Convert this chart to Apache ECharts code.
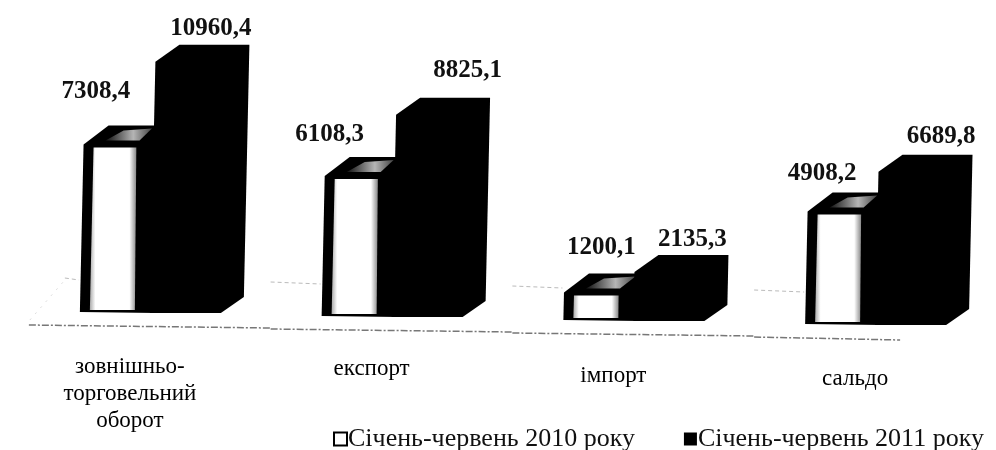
<!DOCTYPE html>
<html>
<head>
<meta charset="utf-8">
<script src="https://cdn.jsdelivr.net/npm/echarts@6/dist/echarts.min.js"></script>
<style>
html,body{margin:0;padding:0;background:#fff}
#main{width:996px;height:450px;filter:blur(0.5px)}
</style>
</head>
<body>
<div id="main"></div>
<script>
var categories = ['зовнішньо-\nторговельний\nоборот', 'експорт', 'імпорт', 'сальдо'];
var name2010 = 'Січень-червень 2010 року';
var name2011 = 'Січень-червень 2011 року';
var values2010 = [7308.4, 6108.3, 1200.1, 4908.2];
var values2011 = [10960.4, 8825.1, 2135.3, 6689.8];

// page tilts down to the right, and bars lean a little (scanned 3d chart)
var drift = 4, lean = 0.022;
var serif = '"Liberation Serif", serif';
// label nudges from the bar, [dx, dy]
var nudge2010 = [[-54, -53], [-62, -41], [-32, -45], [-53, -38]];
var nudge2011 = [[61, -33], [76, -44], [59, -33], [66, -35]];
var catLabelY = [353, 355, 362, 365];

function fmt(v) { return v.toFixed(1).replace('.', ','); }
function base(api, i) { return api.coord([i, 0])[1] + i * drift; }

function bar2010(params, api) {
  var i = api.value(0), c = api.coord([i, 0])[0], b = base(api, i);
  var h = api.coord([i, 0])[1] - api.coord([i, api.value(1)])[1];
  var s = h * lean;
  return {
    type: 'group',
    children: [
      { type: 'polygon', shape: { points: [[c - 70, b], [c - 70 + s, b - h], [c - 45 + s, b - h - 19], [c + 6, b - h - 19], [c + 6, b + 1]] }, style: { fill: '#000' } },
      { type: 'polygon', shape: { points: [[c - 48 + s, b - h - 4], [c - 30 + s, b - h - 14], [c + 2, b - h - 16], [c - 14 + s, b - h - 4]] },
        style: { fill: { type: 'linear', x: 0, y: 0, x2: 1, y2: 0, colorStops: [{ offset: 0, color: '#111' }, { offset: 0.6, color: '#b5b5b5' }, { offset: 1, color: '#444' }] } } },
      { type: 'polygon', shape: { points: [[c - 60, b - 2], [c - 60 + s, b - h + 3], [c - 15 + s * 0.4, b - h + 3], [c - 15, b - 2]] },
        style: { fill: { type: 'linear', x: 0, y: 0, x2: 1, y2: 0, colorStops: [{ offset: 0, color: '#aaa' }, { offset: 0.12, color: '#fff' }, { offset: 0.85, color: '#fff' }, { offset: 1, color: '#888' }] } } },
      { type: 'text', style: { x: c + nudge2010[i][0], y: b - h + nudge2010[i][1], text: fmt(api.value(1)), fill: '#111', font: 'bold 25px ' + serif, align: 'center', verticalAlign: 'middle' } }
    ]
  };
}

function bar2011(params, api) {
  var i = api.value(0), c = api.coord([i, 0])[0], b = base(api, i) + 1;
  var h = api.coord([i, 0])[1] - api.coord([i, api.value(1)])[1];
  var s = h * lean;
  return {
    type: 'group',
    children: [
      { type: 'polygon', shape: { points: [[c, b], [c + 71, b], [c + 94, b - 16], [c + 94 + s, b - h - 17], [c + 24 + s, b - h - 17], [c + s, b - h]] }, style: { fill: '#000' } },
      { type: 'text', style: { x: c + nudge2011[i][0], y: b - h + nudge2011[i][1], text: fmt(api.value(1)), fill: '#111', font: 'bold 25px ' + serif, align: 'center', verticalAlign: 'middle' } }
    ]
  };
}

// faint floor lines and the category names under each group
function floor(params, api) {
  var i = api.value(0), c = api.coord([i, 0])[0], b = base(api, i);
  var kids = [
    { type: 'line', shape: { x1: c - 121, y1: b + 13, x2: i == 3 ? c + 25 : c + 121, y2: b + 16 }, style: { stroke: '#777', lineWidth: 1.5, lineDash: [7, 2, 2, 2] } },
    { type: 'line', shape: { x1: i == 0 ? c - 85 : c - 121, y1: b - 34, x2: c - 71, y2: b - 32 }, style: { stroke: '#bbb', lineWidth: 1, lineDash: [4, 3] } },
    { type: 'text', style: { x: c - 20, y: catLabelY[i], text: categories[i], fill: '#000', font: '23px ' + serif, lineHeight: 27, align: 'center', verticalAlign: 'top' } }
  ];
  if (i == 0) {
    kids.push({ type: 'line', shape: { x1: c - 120, y1: b + 8, x2: c - 85, y2: b - 32 }, style: { stroke: '#ddd', lineWidth: 1, lineDash: [2, 6] } });
  }
  return { type: 'group', children: kids };
}

var chart = echarts.init(document.getElementById('main'));
chart.setOption({
  animation: false,
  backgroundColor: '#fff',
  grid: { left: 29, width: 968, top: 37, bottom: 138 },
  legend: {
    data: [name2010, name2011],
    left: 328, top: 421,
    icon: 'rect', itemWidth: 13, itemHeight: 13, itemGap: 49,
    textStyle: { fontFamily: serif, fontSize: 26, color: '#111', padding: [0, 0, 0, -4] }
  },
  xAxis: { type: 'category', data: categories, show: false },
  yAxis: { type: 'value', min: 0, max: 12000, show: false },
  series: [
    { type: 'custom', name: 'floor', renderItem: floor, clip: false, silent: true, encode: { x: 0, y: 1 },
      data: values2010.map(function (v, i) { return [i, 0]; }) },
    { type: 'custom', name: name2010, renderItem: bar2010, clip: false, encode: { x: 0, y: 1 },
      itemStyle: { color: '#fff', borderColor: '#000', borderWidth: 3 },
      data: values2010.map(function (v, i) { return [i, v]; }) },
    { type: 'custom', name: name2011, renderItem: bar2011, clip: false, encode: { x: 0, y: 1 },
      itemStyle: { color: '#000' },
      data: values2011.map(function (v, i) { return [i, v]; }) }
  ]
});
</script>
</body>
</html>
